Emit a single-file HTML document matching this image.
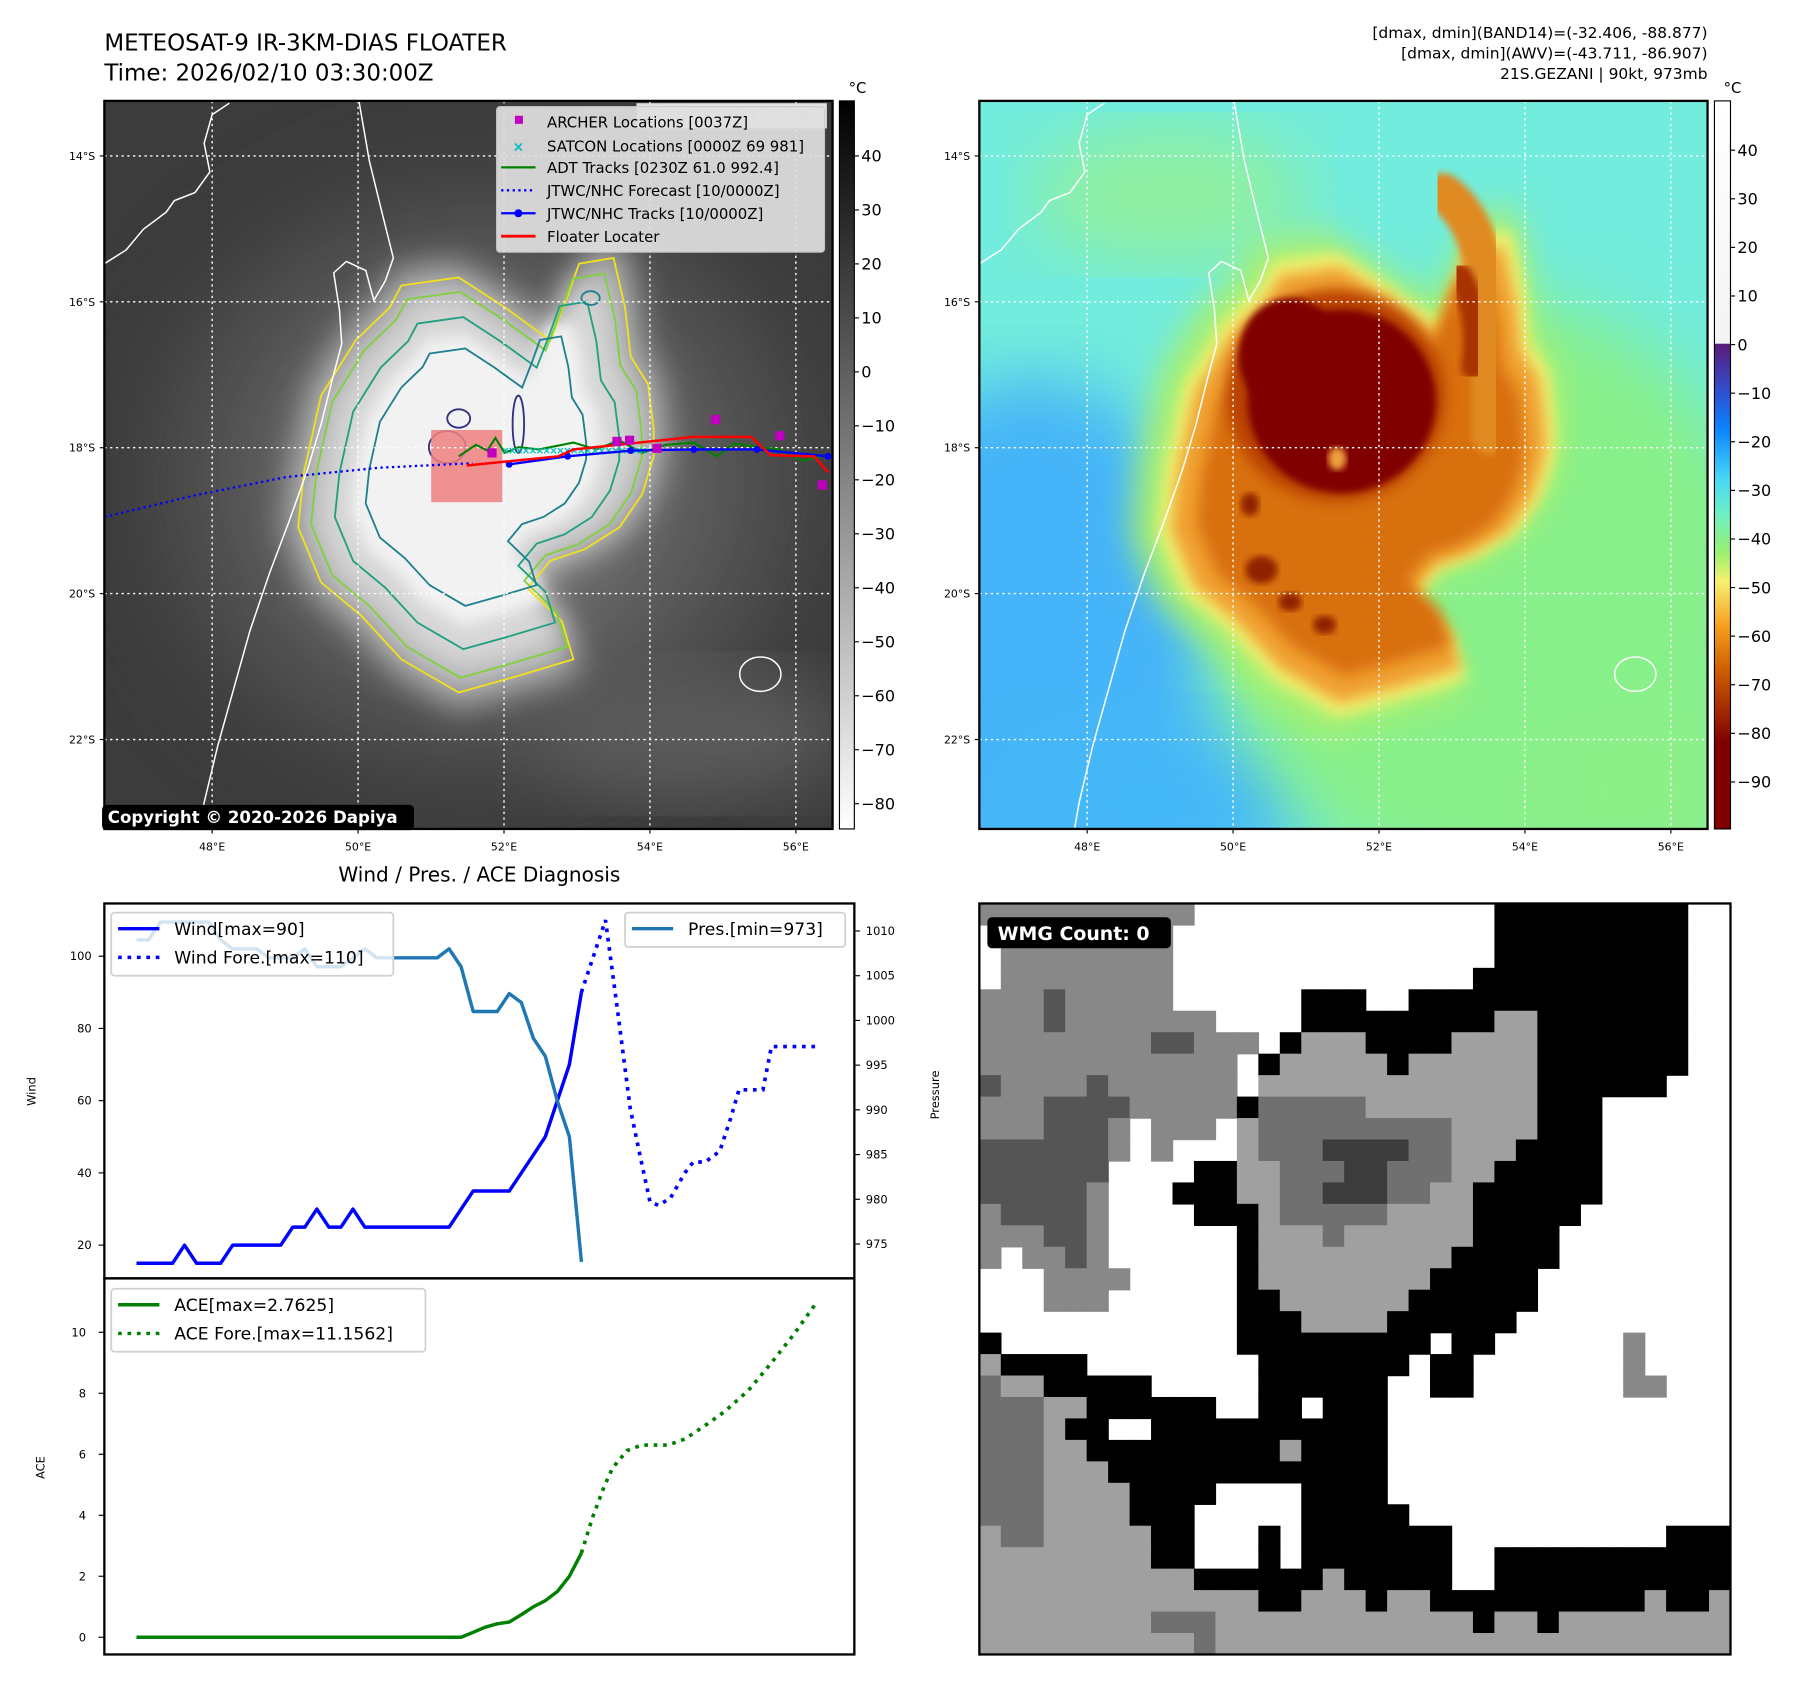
<!DOCTYPE html>
<html><head><meta charset="utf-8">
<style>
html,body{margin:0;padding:0;background:#fff;}
svg{display:block;font-family:"DejaVu Sans","Liberation Sans",sans-serif;}
</style></head>
<body>
<svg id="root" width="1797" height="1690" viewBox="0 0 1567 1474" preserveAspectRatio="none" xmlns="http://www.w3.org/2000/svg">
<defs>
  <filter id="b3"><feGaussianBlur stdDeviation="3"/></filter>
  <filter id="b6"><feGaussianBlur stdDeviation="6"/></filter>
  <filter id="b14"><feGaussianBlur stdDeviation="14"/></filter>
  <filter id="b30"><feGaussianBlur stdDeviation="30"/></filter>
  <clipPath id="clipL"><rect x="91" y="88" width="635" height="635"/></clipPath>
  <clipPath id="clipR"><rect x="854" y="88" width="635" height="635"/></clipPath>
  <linearGradient id="cb1" x1="0" y1="0" x2="0" y2="1">
    <stop offset="0" stop-color="#000"/><stop offset="1" stop-color="#fff"/>
  </linearGradient>
  <linearGradient id="cb2" x1="0" y1="0" x2="0" y2="1">
    <stop offset="0" stop-color="#ffffff"/>
    <stop offset="0.333" stop-color="#f4f4f4"/>
    <stop offset="0.334" stop-color="#5a1a7a"/>
    <stop offset="0.40" stop-color="#3050d0"/>
    <stop offset="0.45" stop-color="#0a84ff"/>
    <stop offset="0.52" stop-color="#48d8f8"/>
    <stop offset="0.57" stop-color="#70f0c0"/>
    <stop offset="0.62" stop-color="#98f070"/>
    <stop offset="0.66" stop-color="#f8f070"/>
    <stop offset="0.72" stop-color="#f8a020"/>
    <stop offset="0.78" stop-color="#d06000"/>
    <stop offset="0.84" stop-color="#a02800"/>
    <stop offset="0.88" stop-color="#800000"/>
    <stop offset="1" stop-color="#800000"/>
  </linearGradient>
  <radialGradient id="haloL" cx="0.5" cy="0.5" r="0.5">
    <stop offset="0" stop-color="#9a9a9a"/><stop offset="1" stop-color="#3a3a3a"/>
  </radialGradient>
</defs>

<text x="91" y="44" font-size="20">METEOSAT-9 IR-3KM-DIAS FLOATER</text>
<text x="91" y="70" font-size="20">Time: 2026/02/10 03:30:00Z</text>
<g font-size="13.5" text-anchor="end">
  <text x="1489" y="33">[dmax, dmin](BAND14)=(-32.406, -88.877)</text>
  <text x="1489" y="51">[dmax, dmin](AWV)=(-43.711, -86.907)</text>
  <text x="1489" y="69">21S.GEZANI | 90kt, 973mb</text>
</g>

<g id="mapL" clip-path="url(#clipL)">
  <rect x="91" y="88" width="635" height="635" fill="#3c3c3c"/>
  <ellipse cx="420" cy="420" rx="330" ry="300" fill="url(#haloL)" opacity="0.8" filter="url(#b30)"/>
  <ellipse cx="600" cy="640" rx="140" ry="60" fill="#5a5a5a" filter="url(#b30)"/>
  <g id="cloudL"></g>
  <g id="contoursL" fill="none" stroke-width="1.6"></g>
  <rect x="376" y="375" width="62" height="63" fill="#f08080" opacity="0.85"/>
  <g id="coastL" fill="none" stroke="#fff" stroke-width="1.3"></g>
  <g id="gridL" stroke="#fff" stroke-width="1.2" stroke-dasharray="2,3"></g>
  <g id="tracksL"></g>
</g>
<rect x="91" y="88" width="635" height="635" fill="none" stroke="#000" stroke-width="2"/>
<g>
  <rect x="555" y="90" width="166" height="22" fill="#fff" opacity="0.85"/>
  <text x="560" y="107" font-size="14" fill="#ccc" font-weight="bold">© EUMETSAT 2026</text>
  <rect x="433" y="93" width="286" height="127" fill="#e0e0e0" opacity="0.92" stroke="#ccc" rx="3"/>
  <g font-size="13">
    <rect x="449" y="101" width="7" height="7" fill="#c000c0"/><text x="477" y="111">ARCHER Locations [0037Z]</text>
    <text x="447" y="132" font-size="12" fill="#00c0c0" font-weight="bold">×</text><text x="477" y="132">SATCON Locations [0000Z 69 981]</text>
    <line x1="437" y1="146" x2="467" y2="146" stroke="#008000" stroke-width="2"/><text x="477" y="151">ADT Tracks [0230Z 61.0 992.4]</text>
    <line x1="437" y1="166" x2="467" y2="166" stroke="#0000ff" stroke-width="2" stroke-dasharray="2,3"/><text x="477" y="171">JTWC/NHC Forecast [10/0000Z]</text>
    <line x1="437" y1="186" x2="467" y2="186" stroke="#0000ff" stroke-width="2"/><circle cx="452" cy="186" r="3.5" fill="#0000ff"/><text x="477" y="191">JTWC/NHC Tracks [10/0000Z]</text>
    <line x1="437" y1="206" x2="467" y2="206" stroke="#ff0000" stroke-width="2.5"/><text x="477" y="211">Floater Locater</text>
  </g>
</g>
<g>
  <rect x="89" y="702" width="272" height="22" rx="4" fill="#000"/>
  <text x="94" y="718" font-size="14.5" font-weight="bold" fill="#fff">Copyright © 2020-2026 Dapiya</text>
</g>
<rect x="732" y="88" width="13" height="635" fill="url(#cb1)" stroke="#000" stroke-width="1"/>
<text x="740" y="81" font-size="13">°C</text>
<g id="cbTicksL" font-size="14"></g>

<g id="mapR" clip-path="url(#clipR)">
  <rect x="854" y="88" width="635" height="635" fill="#72ecdc"/>
  <ellipse cx="900" cy="560" rx="160" ry="230" fill="#44b4f8" filter="url(#b30)"/>
  <ellipse cx="1000" cy="700" rx="140" ry="80" fill="#44b8f8" filter="url(#b30)"/>
  <ellipse cx="1300" cy="520" rx="240" ry="260" fill="#88f08a" filter="url(#b30)"/>
  <ellipse cx="1430" cy="690" rx="120" ry="80" fill="#8cf088" filter="url(#b30)"/>
  <ellipse cx="1020" cy="170" rx="120" ry="60" fill="#90f0a0" filter="url(#b30)"/>
  <g id="stormR"></g>
  <g id="coastR" fill="none" stroke="#fff" stroke-width="1.3"></g>
  <g id="gridR" stroke="#fff" stroke-width="1.2" stroke-dasharray="2,3"></g>
</g>
<rect x="854" y="88" width="635" height="635" fill="none" stroke="#000" stroke-width="2"/>
<rect x="1495" y="88" width="14" height="635" fill="url(#cb2)" stroke="#000" stroke-width="1"/>
<text x="1503" y="81" font-size="13">°C</text>
<g id="cbTicksR" font-size="14"></g>
<g id="mapTicks" font-size="9.5"></g>

<text x="418" y="769" font-size="17.5" text-anchor="middle">Wind / Pres. / ACE Diagnosis</text>
<g id="diag"></g>

<g id="wmg"></g>
</svg>

<script>
const windObs = [15,15,15,15,20,15,15,15,20,20,20,20,20,25,25,30,25,25,30,25,25,25,25,25,25,25,25,30,35,35,35,35,40,45,50,60,70,90];
const presObs = [1009,1009,1011,1011,1011,1011,1011,1009,1008,1008,1008,1007,1007,1007,1008,1006,1006,1006,1007,1008,1007,1007,1007,1007,1007,1007,1008,1006,1001,1001,1001,1003,1002,998,996,991,987,973];
const windForeT = [37,39,40,41.05,41.8,42.7,43.4,44.4,45.6,46.3,47.3,48.5,49.4,50.1,52.1,52.8,56.6];
const windForeV = [90,110,85,58,46,32,31,33,40,43,43,46,55,63,63,75,75];
const aceObs = [0,0,0,0,0,0,0,0,0,0,0,0,0,0,0,0,0,0,0,0,0,0,0,0,0,0,0,0,0.16,0.33,0.44,0.5,0.74,1.0,1.2,1.5,2.0,2.76];
const aceForeT = [37,37.9,38.9,39.6,40.8,42.0,44.2,45.6,47.5,48.9,50.9,52.8,54.7,56.6];
const aceForeV = [2.76,3.9,4.95,5.56,6.12,6.3,6.3,6.5,7.0,7.4,8.1,9.0,9.95,11.0];
const windTicks = [20,40,60,80,100];
const presTicks = [975,980,985,990,995,1000,1005,1010];
const aceTicks = [0,2,4,6,8,10];
const wmgRows = [
"MMMMMMMMMM..............kkkkkkkkk..",
".MMMMMMMM...............kkkkkkkkk..",
".MMMMMMMM...............kkkkkkkkk..",
".MMMMMMMM..............kkkkkkkkkk..",
"MMMSMMMMM......kkk..kkkkkkkkkkkkk..",
"MMMSMMMMMMM....kkkkkkkkkLLkkkkkkk..",
"MMMMMMMMSSMMM.kLLLkkkkLLLLkkkkkkk..",
"MMMMMMMMMMMM.kLLLLLkLLLLLLkkkkkkk..",
"SMMMMSMMMMMM.LLLLLLLLLLLLLkkkkkk...",
"MMMSSSSMMMMMkDDDDDLLLLLLLLkkk......",
"MMMSSSM.MMM.LDDDDDDDDDLLLLkkk......",
"SSSSSSM.M...LDDDXXXXDDLLLkkkk......",
"SSSSSS....kkLLDDDXXDDDLLkkkkk......",
"SSSSSM...kkkLLDDXXXDDLLkkkkkk......",
"MSSSSM....kkkLDDDDDLLLLkkkkk.......",
"MMMSSM......kLLLDLLLLLLkkkk........",
"M.MMSM......kLLLLLLLLLkkkkk........",
"...MMMM.....kLLLLLLLLkkkkk.........",
"...MMM......kkLLLLLLkkkkkk.........",
"............kkkLLLLkkkkkk..........",
"k...........kkkkkkkkk.kk......M....",
"Lkkkk........kkkkkkk.kk.......M....",
"DLLkkkkk.....kkkkkk..kk.......MM...",
"DDDLLkkkkkk..kk.kkk................",
"DDDLkk..kkkkkkkkkkk................",
"DDDLLkkkkkkkkkLkkkk................",
"DDDLLLkkkkkkkkkkkkk................",
"DDDLLLLkkkk....kkkk................",
"DDDLLLLkkk.....kkkkk...............",
"LDDLLLLLkk...k.kkkkkkk..........kkk",
"LLLLLLLLkk...k.kkkkkkk..kkkkkkkkkkk",
"LLLLLLLLLLkkkkkkLkkkkk..kkkkkkkkkkk",
"LLLLLLLLLLLLLkkLLLkLLkkkkkkkkkkLkkL",
"LLLLLLLLDDDLLLLLLLLLLLLkLLkLLLLLLLL",
"LLLLLLLLLLDLLLLLLLLLLLLLLLLLLLLLLLL"
];
const cbLTicks = [40,30,20,10,0,-10,-20,-30,-40,-50,-60,-70,-80];
const cbRTicks = [40,30,20,10,0,-10,-20,-30,-40,-50,-60,-70,-80,-90];
const latTicks = [14,16,18,20,22];
const lonTicks = [48,50,52,54,56];

const NS = "http://www.w3.org/2000/svg";
function mk(tag, attrs, parent){ const e=document.createElementNS(NS,tag); for(const k in attrs) e.setAttribute(k,attrs[k]); if(parent) parent.appendChild(e); return e; }
function txt(parent, x, y, s, size, anchor){ const t=mk('text',{x:x,y:y,'font-size':size,'text-anchor':anchor||'start'},parent); t.textContent=s; return t; }

const X0 = 119, XSTEP = (507-119)/37;
function xT(t){ return X0 + t*XSTEP; }
function yWind(v){ return 834 + (100 - v)*3.15; }
function yPres(p){ return 812 + (1010 - p)*7.8; }
function yAce(a){ return 1428 - a*26.6; }

const diag = document.getElementById('diag');
const fw = mk('rect',{x:91,y:788,width:654,height:327,fill:'none',stroke:'#000','stroke-width':2},diag);


const fa = mk('rect',{x:91,y:1115,width:654,height:328,fill:'none',stroke:'#000','stroke-width':2},diag);



windTicks.forEach(v=>{ const y=yWind(v); mk('line',{x1:86,y1:y,x2:91,y2:y,stroke:'#000'},diag); const t=txt(diag,80,y+3.5,String(v),10,'end');   });
presTicks.forEach(v=>{ const y=yPres(v); mk('line',{x1:745,y1:y,x2:750,y2:y,stroke:'#000'},diag); const t=txt(diag,755,y+3.5,String(v),10,'start');   });
aceTicks.forEach(v=>{ const y=yAce(v); mk('line',{x1:86,y1:y,x2:91,y2:y,stroke:'#000'},diag); const t=txt(diag,75,y+3.5,String(v),10,'end');   });
let yl = txt(diag,0,0,'Wind',10,'middle'); yl.setAttribute('transform','translate(31,952) rotate(-90)');
 
yl = txt(diag,0,0,'Pressure',10,'middle'); yl.setAttribute('transform','translate(819,955) rotate(-90)');
 
yl = txt(diag,0,0,'ACE',10,'middle'); yl.setAttribute('transform','translate(39,1280) rotate(-90)');
 

function pts(ts, vs, yf){ return vs.map((v,i)=>xT(ts?ts[i]:i).toFixed(1)+','+yf(v).toFixed(1)).join(' '); }
let l;
l = mk('polyline',{points:pts(windForeT,windForeV,yWind),fill:'none',stroke:'#0000ff','stroke-width':3.2,'stroke-dasharray':'3.2,5'},diag);
 
l = mk('polyline',{points:pts(null,windObs,yWind),fill:'none',stroke:'#0000ff','stroke-width':3,'stroke-linejoin':'round'},diag);
 
l = mk('polyline',{points:pts(null,presObs,yPres),fill:'none',stroke:'#1f77b4','stroke-width':3,'stroke-linejoin':'round'},diag);
 
l = mk('polyline',{points:pts(aceForeT,aceForeV,yAce),fill:'none',stroke:'#008000','stroke-width':3.2,'stroke-dasharray':'3.2,5'},diag);
 
l = mk('polyline',{points:pts(null,aceObs,yAce),fill:'none',stroke:'#008000','stroke-width':3,'stroke-linejoin':'round'},diag);
 

function legend(x,y,w,h,items,name){
  const g=mk('g',{},diag);
  
  
  mk('rect',{x:x,y:y,width:w,height:h,rx:3,fill:'#fff','fill-opacity':0.8,stroke:'#d0d0d0','stroke-width':1.5},g);
  items.forEach((it,i)=>{ const yy=y+14+i*25; mk('line',{x1:x+6,y1:yy,x2:x+42,y2:yy,stroke:it.c,'stroke-width':3,'stroke-dasharray':it.d||'none'},g); txt(g,x+55,yy+5.5,it.t,15,'start'); });
}
legend(97,796,246,55,[{c:'#0000ff',t:'Wind[max=90]'},{c:'#0000ff',t:'Wind Fore.[max=110]',d:'3.2,5'}],'wind-legend');
legend(545,796,192,30,[{c:'#1f77b4',t:'Pres.[min=973]'}],'pressure-legend');
legend(97,1124,274,55,[{c:'#008000',t:'ACE[max=2.7625]'},{c:'#008000',t:'ACE Fore.[max=11.1562]',d:'3.2,5'}],'ace-legend');

const wmg = document.getElementById('wmg');
const wcol = {'.':'#ffffff','k':'#000000','L':'#a0a0a0','M':'#888888','D':'#707070','S':'#555555','X':'#3c3c3c'};
const cs = 655/35;
mk('rect',{x:854,y:788,width:655,height:655,fill:'#fff'},wmg);
wmgRows.forEach((row,r)=>{ for(let c=0;c<row.length;c++){ const ch=row[c]; if(ch==='.') continue;
  const cell=mk('rect',{x:(854+c*cs).toFixed(2),y:(788+r*cs).toFixed(2),width:(cs+0.6).toFixed(2),height:(cs+0.6).toFixed(2),fill:wcol[ch]},wmg);
  
   } });
mk('rect',{x:854,y:788,width:655,height:655,fill:'none',stroke:'#000','stroke-width':2},wmg);
mk('rect',{x:861,y:800,width:160,height:27,rx:4,fill:'#000'},wmg);
const wl = txt(wmg,870,820,'WMG Count: 0',16.5,'start'); wl.setAttribute('font-weight','bold'); wl.setAttribute('fill','#fff');
 

const cbl=document.getElementById('cbTicksL');
cbLTicks.forEach(v=>{ const y=136+(40-v)*(701-136)/120; mk('line',{x1:745,y1:y,x2:749,y2:y,stroke:'#000'},cbl); txt(cbl,751,y+5,v<0?'\u2212'+(-v):String(v),14); });
const cbr=document.getElementById('cbTicksR');
cbRTicks.forEach(v=>{ const y=131+(40-v)*(682-131)/130; mk('line',{x1:1509,y1:y,x2:1513,y2:y,stroke:'#000'},cbr); txt(cbr,1515,y+5,v<0?'\u2212'+(-v):String(v),14); });

const mt=document.getElementById('mapTicks');
function latY(l){ return 136 + (l-14)*(645-136)/8; }
function lonX(l, off){ return 185 + (l-48)*(694-185)/8 + off; }
[0,763].forEach(off=>{
  latTicks.forEach(l=>{ txt(mt,83+off,latY(l)+3.5,l+'°S',9.5,'end'); mk('line',{x1:87+off,y1:latY(l),x2:91+off,y2:latY(l),stroke:'#000'},mt); });
  lonTicks.forEach(l=>{ txt(mt,lonX(l,off),742,l+'°E',9.5,'middle'); mk('line',{x1:lonX(l,off),y1:723,x2:lonX(l,off),y2:727,stroke:'#000'},mt); });
  const g=document.getElementById(off? 'gridR':'gridL');
  latTicks.forEach(l=>mk('line',{x1:91+off,y1:latY(l),x2:726+off,y2:latY(l)},g));
  lonTicks.forEach(l=>mk('line',{x1:lonX(l,off),y1:88,x2:lonX(l,off),y2:723},g));
});

const outer = [[350,249],[400,242],[440,268],[480,297],[495,258],[505,230],[535,225],[545,268],[550,311],[565,335],[570,374],[570,398],[560,431],[540,460],[510,479],[480,489],[460,513],[490,542],[500,575],[450,590],[400,604],[350,575],[315,537],[280,508],[260,460],[265,412],[280,345],[310,297],[340,268]];
function shape(s, cx, cy, dx){ return outer.map(p=>((cx+(p[0]-cx)*s)+(dx||0)).toFixed(1)+','+(cy+(p[1]-cy)*s).toFixed(1)).join(' '); }
const cl=document.getElementById('cloudL');
mk('polygon',{points:shape(1.08,420,420),fill:'#a8a8a8',filter:'url(#b14)'},cl);
mk('polygon',{points:shape(0.92,420,420),fill:'#d8d8d8',filter:'url(#b14)'},cl);
mk('polygon',{points:shape(0.7,415,410),fill:'#f2f2f2',filter:'url(#b6)'},cl);
const ctl=document.getElementById('contoursL');
mk('polygon',{points:shape(1.0,420,420),stroke:'#f0e020'},ctl);
mk('polygon',{points:shape(0.93,420,420),stroke:'#80d040'},ctl);
mk('polygon',{points:shape(0.8,420,415),stroke:'#20a080'},ctl);
mk('polygon',{points:shape(0.62,415,405),stroke:'#208090'},ctl);
mk('ellipse',{cx:390,cy:390,rx:16,ry:14,stroke:'#303080'},ctl);
mk('ellipse',{cx:400,cy:365,rx:10,ry:8,stroke:'#303080'},ctl);
mk('ellipse',{cx:452,cy:370,rx:5,ry:25,stroke:'#303080'},ctl);
mk('ellipse',{cx:515,cy:260,rx:8,ry:6,stroke:'#208090'},ctl);

const sr=document.getElementById('stormR');
mk('polygon',{points:shape(1.22,430,425,763),fill:'#a8f070',filter:'url(#b14)'},sr);
mk('polygon',{points:shape(1.12,430,425,770),fill:'#f0f070',filter:'url(#b6)'},sr);
mk('polygon',{points:shape(1.05,430,425,770),fill:'#f0a030',filter:'url(#b6)'},sr);
mk('polygon',{points:shape(0.92,430,425,770),fill:'#d87010',filter:'url(#b6)'},sr);
mk('path',{d:'M1258,168 C1290,190 1300,240 1300,300 L1300,380',stroke:'#e08a20','stroke-width':34,fill:'none','stroke-linecap':'round',filter:'url(#b3)'},sr);
mk('path',{d:'M1272,240 C1285,260 1290,290 1285,320',stroke:'#a83000','stroke-width':22,fill:'none','stroke-linecap':'round',filter:'url(#b3)'},sr);
mk('ellipse',{cx:1165,cy:345,rx:95,ry:92,fill:'#b84000',filter:'url(#b6)'},sr);
mk('ellipse',{cx:1170,cy:350,rx:82,ry:80,fill:'#800000',filter:'url(#b3)'},sr);
mk('ellipse',{cx:1125,cy:310,rx:45,ry:50,fill:'#800000',filter:'url(#b3)'},sr);
mk('ellipse',{cx:1166,cy:400,rx:8,ry:10,fill:'#f0a040',filter:'url(#b3)'},sr);
[[1100,497,14,12],[1125,525,10,8],[1155,545,10,8],[1090,440,8,10]].forEach(e=>mk('ellipse',{cx:e[0],cy:e[1],rx:e[2],ry:e[3],fill:'#902000',filter:'url(#b3)'},sr));

const coastMain='M313,88 L322,140 L333,185 L343,225 L336,245 L326,262 L319,236 L302,228 L291,238 L296,270 L298,300 L290,330 L280,370 L268,410 L252,455 L235,500 L218,550 L204,600 L190,650 L178,700 L174,723';
const coastNW='M91,230 L110,218 L125,200 L145,185 L152,175 L170,168 L183,150 L178,125 L185,100 L200,90';
[['coastL',0],['coastR',763]].forEach(([id,off])=>{
  const g=document.getElementById(id);
  mk('path',{d:coastMain,transform:'translate('+off+',0)'},g);
  mk('path',{d:coastNW,transform:'translate('+off+',0)'},g);
  mk('ellipse',{cx:663+off,cy:588,rx:18,ry:15},g);
});

const tr=document.getElementById('tracksL');
mk('polyline',{points:'91,451 170,432 250,416 330,408 412,404',fill:'none',stroke:'#0000ff','stroke-width':2,'stroke-dasharray':'2,3'},tr);
mk('polyline',{points:'400,398 415,388 425,393 432,382 440,395 452,390 470,392 500,386 520,392 540,384 560,395 580,388 605,386 625,398 640,387 680,392 700,402 722,396',fill:'none',stroke:'#008000','stroke-width':1.8},tr);
for(let x=440;x<=565;x+=6){ const s=mk('text',{x:x-3,y:396,'font-size':9,fill:'#00c0c0','font-weight':'bold'},tr); s.textContent='×'; }
mk('polyline',{points:'444,405 495,398 550,393 605,392 660,392 722,398',fill:'none',stroke:'#0000ff','stroke-width':2},tr);
[[444,405],[495,398],[550,393],[605,392],[660,392],[722,398]].forEach(p=>mk('circle',{cx:p[0],cy:p[1],r:3,fill:'#0000ff'},tr));
mk('polyline',{points:'407,406 487,398 500,392 605,381 655,381 672,397 710,398 722,412',fill:'none',stroke:'#ff0000','stroke-width':2.2},tr);
[[429,395],[538,385],[549,384],[573,391],[624,366],[680,380],[717,423]].forEach(p=>mk('rect',{x:p[0]-4,y:p[1]-4,width:8,height:8,fill:'#c000c0'},tr));
</script>
</body></html>
